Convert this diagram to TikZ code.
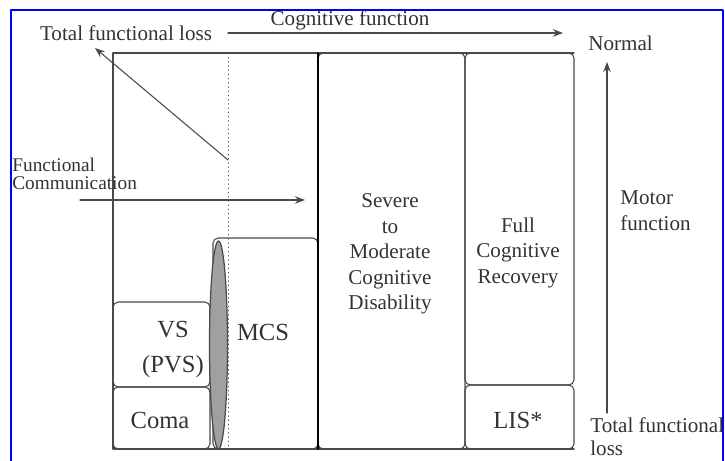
\documentclass[tikz,border=0pt]{standalone}
\usepackage{fontspec}
\setmainfont{Liberation Serif}
\usepackage{tikz}
\usetikzlibrary{arrows.meta}
\definecolor{ink}{HTML}{4A4A4A}
\definecolor{txt}{HTML}{333333}
\definecolor{frameblue}{HTML}{0000FF}
\definecolor{shade}{HTML}{A0A0A0}
\tikzset{
  every picture/.style={line join=round, line cap=round, >=Stealth},
  lab/.style={text=txt, inner sep=0pt, font=\fontsize{12}{14.5}\selectfont},
  biglab/.style={text=txt, inner sep=0pt, font=\fontsize{14}{20}\selectfont},
  stage/.style={ink, line width=0.6pt, rounded corners=3pt},
}

\begin{document}
\begin{tikzpicture}
\useasboundingbox (0,0) rectangle (14.500,9.220);
\draw[frameblue,line width=1.2pt](0.220,0.000)--(0.220,9.020)--(14.460,9.020)--(14.460,0.000);
% left part of the chart
\draw[ink,line width=0.6pt](11.480,8.160)--(2.260,8.160)--(2.260,0.240)--(11.480,0.240);
\draw[ink,dotted](4.560,8.160)--(4.560,0.240);
% stages
\draw[stage](2.260,1.480) rectangle (4.200,3.180);
\draw[stage](2.260,0.240) rectangle (4.200,1.480);
\draw[stage](4.260,0.240) rectangle (6.360,4.460);
\draw[ink,fill=shade,line width=0.7pt](4.370,2.320) ellipse[x radius=0.180,y radius=2.080];
\draw[stage](6.360,0.240) rectangle (9.300,8.160);
\draw[black,line width=1.1pt](6.360,0.240)--(6.360,8.160);
\draw[stage](9.300,1.520) rectangle (11.480,8.160);
\draw[stage](9.300,0.240) rectangle (11.480,1.520);
% labels
\node[lab] (losstop) at (2.520,8.560) {Total functional loss};
\node[lab] (cogfn) at (7.000,8.820) {Cognitive function};
\node[lab,anchor=west] (normal) at (11.760,8.360) {Normal};
\node[lab,anchor=west,align=left,font=\fontsize{11}{10}\selectfont] (funcomm) at (0.240,5.740) {Functional\\Communication};
\node[biglab,align=center] (vs) at (3.460,2.230) {VS\\(PVS)};
\node[biglab] (coma) at (3.200,0.820) {Coma};
\node[biglab] (mcs) at (5.260,2.580) {MCS};
\node[lab,align=center] (severe) at (7.800,4.140) {Severe\\to\\Moderate\\Cognitive\\Disability};
\node[lab,align=center] (full) at (10.360,4.170) {Full\\Cognitive\\Recovery};
\node[biglab] (lis) at (10.360,0.820) {LIS*};
\node[lab,anchor=west,align=left] (motor) at (12.400,5.010) {Motor\\function};
\node[lab,anchor=west,align=left,font=\fontsize{12}{13}\selectfont] (lossbot) at (11.800,0.480) {Total functional\\loss};
% arrows
\coordinate (cogstart) at (4.560,8.560);
\coordinate (cogend) at (11.260,8.560);
\coordinate (diagstart) at (4.560,6.020);
\coordinate (diagend) at (1.900,8.260);
\coordinate (commstart) at (1.600,5.220);
\coordinate (commend) at (6.100,5.220);
\coordinate (motorstart) at (12.140,0.960);
\coordinate (motorend) at (12.140,7.980);
\draw[->,ink,line width=0.6pt](cogstart)--(cogend);
\draw[->,ink,line width=0.6pt](diagstart)--(diagend);
\draw[->,ink,line width=0.6pt](commstart)--(commend);
\draw[->,ink,line width=0.6pt](motorstart)--(motorend);
\end{tikzpicture}
\end{document}
